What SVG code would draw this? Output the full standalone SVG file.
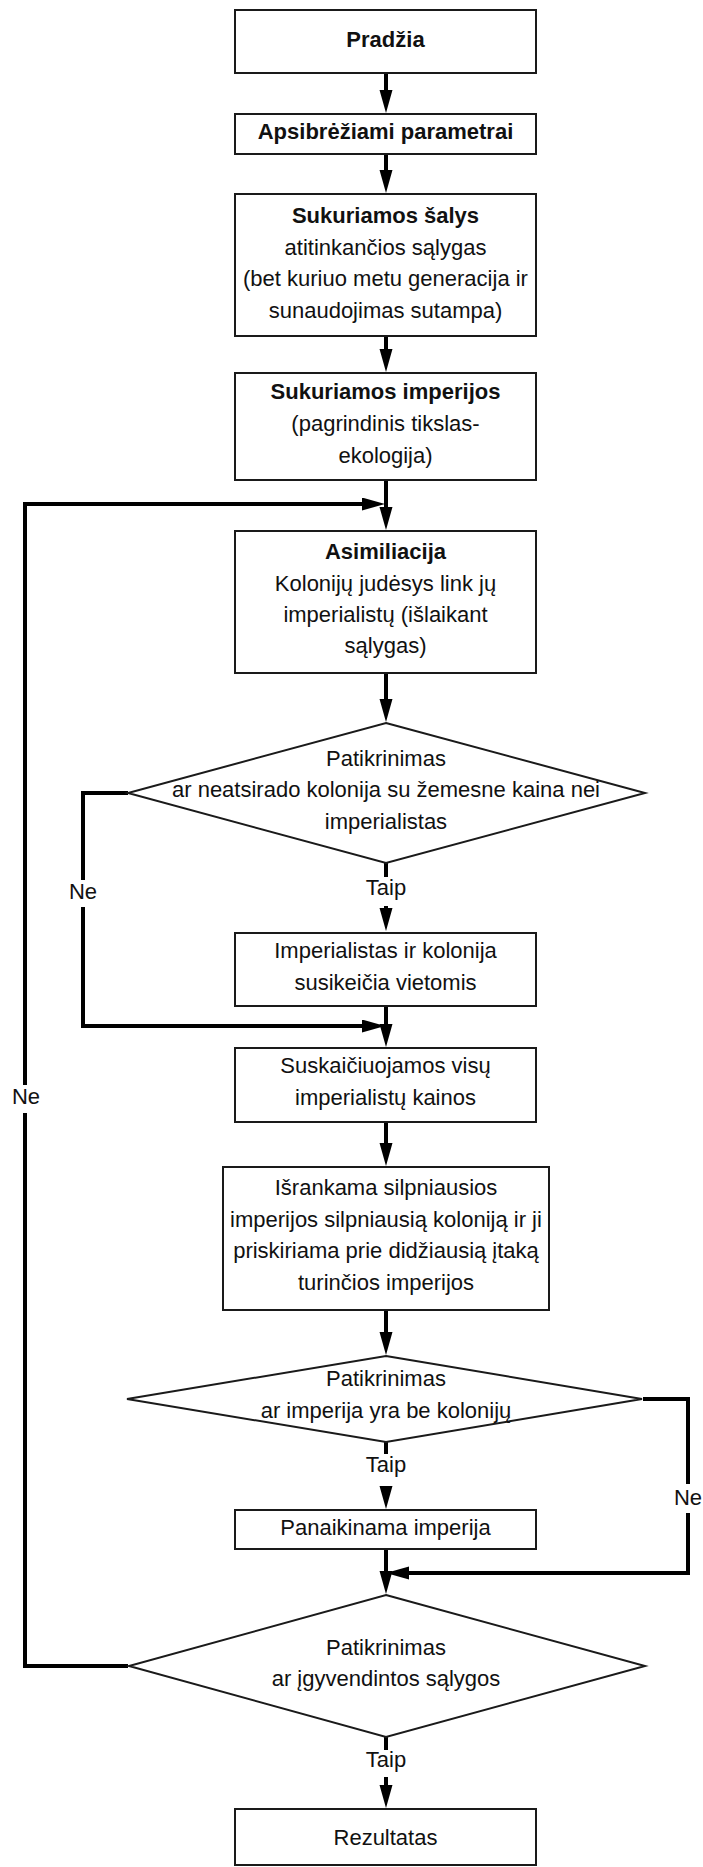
<svg xmlns="http://www.w3.org/2000/svg" width="703" height="1867" viewBox="0 0 703 1867">
<style>
.box{fill:#fff;stroke:#1a1a1a;stroke-width:2}
.t{font-family:"Liberation Sans",Arial,sans-serif;font-size:22px;fill:#111;text-anchor:middle}
.b{font-weight:bold}
.c{fill:none;stroke:#000;stroke-width:4}
</style>
<defs>
<marker id="ah" markerUnits="userSpaceOnUse" markerWidth="24" markerHeight="14" refX="13" refY="6.5" orient="auto">
<path d="M0,0 L23,6.5 L0,13 z" fill="#000"/>
</marker>
</defs>
<rect width="703" height="1867" fill="#fff"/>

<g id="connectors">
<path class="c" d="M386,73 V103" marker-end="url(#ah)"/>
<path class="c" d="M386,154 V183" marker-end="url(#ah)"/>
<path class="c" d="M386,336 V362" marker-end="url(#ah)"/>
<path class="c" d="M386,480 V520" marker-end="url(#ah)"/>
<path class="c" d="M128,1666 H25 V1113 M25,1085 V504 H375" marker-end="url(#ah)"/>
<path class="c" d="M386,673 V712" marker-end="url(#ah)"/>
<path class="c" d="M386,863 V877 M386,906 V921" marker-end="url(#ah)"/>
<path class="c" d="M128,793 H83 V880 M83,907 V1026 H375" marker-end="url(#ah)"/>
<path class="c" d="M386,1006 V1037" marker-end="url(#ah)"/>
<path class="c" d="M386,1122 V1156" marker-end="url(#ah)"/>
<path class="c" d="M386,1310 V1345" marker-end="url(#ah)"/>
<path class="c" d="M386,1442 V1454 M386,1488 V1499" marker-end="url(#ah)"/>
<path class="c" d="M643,1399 H688 V1484 M688,1513 V1573 H396" marker-end="url(#ah)"/>
<path class="c" d="M386,1549 V1584" marker-end="url(#ah)"/>
<path class="c" d="M386,1737 V1750 M386,1777 V1798" marker-end="url(#ah)"/>
<text class="t" x="83" y="899">Ne</text>
<text class="t" x="386" y="895">Taip</text>
<text class="t" x="26" y="1104">Ne</text>
<text class="t" x="386" y="1472">Taip</text>
<text class="t" x="688" y="1505">Ne</text>
<text class="t" x="386" y="1767">Taip</text>
</g>

<g id="n1">
<rect class="box" x="235" y="10" width="301" height="63"/>
<text class="t b" x="385.5" y="47">Pradžia</text>
</g>
<g id="n2">
<rect class="box" x="235" y="114" width="301" height="40"/>
<text class="t b" x="385.5" y="139">Apsibrėžiami parametrai</text>
</g>
<g id="n3">
<rect class="box" x="235" y="194" width="301" height="142"/>
<text class="t b" x="385.5" y="223">Sukuriamos šalys</text>
<text class="t" x="385.5" y="255">atitinkančios sąlygas</text>
<text class="t" x="385.5" y="286">(bet kuriuo metu generacija ir</text>
<text class="t" x="385.5" y="318">sunaudojimas sutampa)</text>
</g>
<g id="n4">
<rect class="box" x="235" y="373" width="301" height="107"/>
<text class="t b" x="385.5" y="399">Sukuriamos imperijos</text>
<text class="t" x="385.5" y="431">(pagrindinis tikslas-</text>
<text class="t" x="385.5" y="463">ekologija)</text>
</g>
<g id="n5">
<rect class="box" x="235" y="531" width="301" height="142"/>
<text class="t b" x="385.5" y="559">Asimiliacija</text>
<text class="t" x="385.5" y="591">Kolonijų judėsys link jų</text>
<text class="t" x="385.5" y="622">imperialistų (išlaikant</text>
<text class="t" x="385.5" y="653">sąlygas)</text>
</g>
<g id="d1">
<polygon class="box" points="386,723 645,793 386,863 128,793"/>
<text class="t" x="386" y="766">Patikrinimas</text>
<text class="t" x="386" y="797">ar neatsirado kolonija su žemesne kaina nei</text>
<text class="t" x="386" y="829">imperialistas</text>
</g>
<g id="n6">
<rect class="box" x="235" y="933" width="301" height="73"/>
<text class="t" x="385.5" y="958">Imperialistas ir kolonija</text>
<text class="t" x="385.5" y="990">susikeičia vietomis</text>
</g>
<g id="n7">
<rect class="box" x="235" y="1048" width="301" height="74"/>
<text class="t" x="385.5" y="1073">Suskaičiuojamos visų</text>
<text class="t" x="385.5" y="1105">imperialistų kainos</text>
</g>
<g id="n8">
<rect class="box" x="223" y="1167" width="326" height="143"/>
<text class="t" x="386" y="1195">Išrankama silpniausios</text>
<text class="t" x="386" y="1227">imperijos silpniausią koloniją ir ji</text>
<text class="t" x="386" y="1258">priskiriama prie didžiausią įtaką</text>
<text class="t" x="386" y="1290">turinčios imperijos</text>
</g>
<g id="d2">
<polygon class="box" points="386,1356 642,1399 386,1442 127,1399"/>
<text class="t" x="386" y="1386">Patikrinimas</text>
<text class="t" x="386" y="1418">ar imperija yra be kolonijų</text>
</g>
<g id="n9">
<rect class="box" x="235" y="1510" width="301" height="39"/>
<text class="t" x="385.5" y="1535">Panaikinama imperija</text>
</g>
<g id="d3">
<polygon class="box" points="386,1595 645,1666 386,1737 129,1666"/>
<text class="t" x="386" y="1655">Patikrinimas</text>
<text class="t" x="386" y="1686">ar įgyvendintos sąlygos</text>
</g>
<g id="n10">
<rect class="box" x="235" y="1809" width="301" height="56"/>
<text class="t" x="385.5" y="1845">Rezultatas</text>
</g>
</svg>
